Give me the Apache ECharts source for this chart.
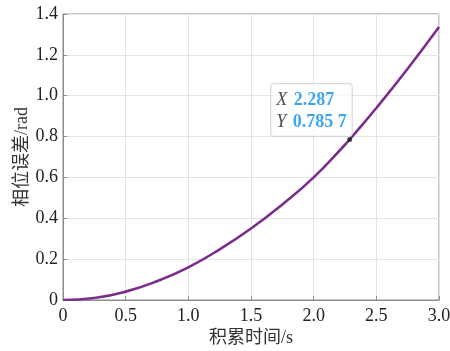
<!DOCTYPE html>
<html>
<head>
<meta charset="utf-8">
<script src="https://cdn.jsdelivr.net/npm/echarts@6/dist/echarts.min.js"></script>
<style>
  html, body { margin: 0; padding: 0; background: #fff; }
  #chart { width: 450px; height: 351px; }
</style>
</head>
<body>
<div id="chart"></div>
<script>
// 积累时间 (s) 与相位误差 (rad)
const timeValues = [0, 0.25, 0.5, 0.75, 1.0, 1.25, 1.5, 1.75, 2.0, 2.25, 2.287, 2.5, 2.75, 3.0];
const phaseError = [0, 0.010, 0.041, 0.092, 0.160, 0.248, 0.350, 0.468, 0.600, 0.760, 0.7857, 0.940, 1.132, 1.336];
const tipPoint = [2.287, 0.7857];
const tipText = ['2.287', '0.785 7'];
const xTicks = ['0', '0.5', '1.0', '1.5', '2.0', '2.5', '3.0'];
const yTicks = ['0', '0.2', '0.4', '0.6', '0.8', '1.0', '1.2', '1.4'];

const serif = '"Liberation Serif", "Noto Sans CJK SC", serif';
const axisGray = '#8c8c8c';

const chart = echarts.init(document.getElementById('chart'));

const option = {
    animation: false,
    grid: {
        left: 63,
        right: 11,
        top: 14,
        bottom: 51,
        outerBoundsMode: 'none',
        show: true,
        borderColor: axisGray,
        borderWidth: 1
    },
    xAxis: {
        type: 'value',
        min: 0,
        max: 3,
        interval: 0.5,
        name: '积累时间/s',
        nameLocation: 'middle',
        nameGap: 29,
        nameMoveOverlap: false,
        nameTextStyle: { fontFamily: serif, fontSize: 18, color: '#333' },
        axisLine: { lineStyle: { color: axisGray } },
        axisTick: { inside: true, length: 4, lineStyle: { color: axisGray } },
        axisLabel: {
            fontFamily: serif, fontSize: 18, color: '#222', margin: 7,
            formatter: (v) => xTicks[Math.round(v / 0.5)]
        },
        splitLine: { lineStyle: { color: '#e4e4e4' } }
    },
    yAxis: {
        type: 'value',
        min: 0,
        max: 1.4,
        interval: 0.2,
        name: '相位误差/rad',
        nameLocation: 'middle',
        nameGap: 32,
        nameMoveOverlap: false,
        nameTextStyle: { fontFamily: serif, fontSize: 18, color: '#333' },
        axisLine: { show: true, lineStyle: { color: axisGray } },
        axisTick: { show: true, inside: true, length: 4, lineStyle: { color: axisGray } },
        axisLabel: {
            fontFamily: serif, fontSize: 18, color: '#222', margin: 5,
            formatter: (v) => yTicks[Math.round(v / 0.2)]
        },
        splitLine: { lineStyle: { color: '#e4e4e4' } }
    },
    series: [
        {
            type: 'line',
            data: timeValues.map((t, i) => [t, phaseError[i]]),
            smooth: true,
            showSymbol: false,
            lineStyle: { color: '#7b2d8e', width: 2.6 },
            z: 2
        },
        {
            type: 'scatter',
            data: [tipPoint],
            symbolSize: 5,
            itemStyle: { color: '#222' },
            z: 3,
            label: {
                show: true,
                position: [-76, -53],
                backgroundColor: 'rgba(255,255,255,0.92)',
                borderColor: '#cfcfcf',
                borderWidth: 1,
                borderRadius: 3,
                padding: [5, 5, 3, 5],
                formatter: () => '{k|X}  {v|' + tipText[0] + '}\n{k|Y}  {v|' + tipText[1] + '}',
                rich: {
                    k: { fontFamily: serif, fontStyle: 'italic', fontSize: 18, color: '#222', lineHeight: 22 },
                    v: { fontFamily: serif, fontWeight: 'bold', fontSize: 18, color: '#0b8ef0', lineHeight: 22 }
                }
            }
        }
    ]
};

chart.setOption(option);
</script>
</body>
</html>
